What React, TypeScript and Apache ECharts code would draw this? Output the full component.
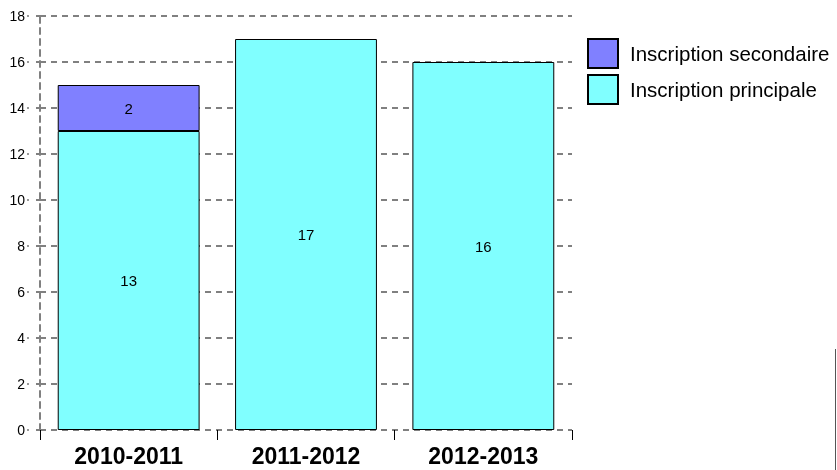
import React, { useEffect, useRef } from "react";
import * as echarts from "echarts";

const categories = ["2010-2011", "2011-2012", "2012-2013"];
const principale = [13, 17, 16];
const secondaire = [2, null, null];
const yTicks = { min: 0, max: 18, interval: 2 };

export default function App() {
  const ref = useRef<HTMLDivElement>(null);
  useEffect(() => {
    const chart = echarts.init(ref.current!, null, { renderer: "svg" });
    const font = "Liberation Sans, Arial, sans-serif";
    chart.setOption({
      animation: false,
      textStyle: { fontFamily: font },
      grid: { left: 40, right: 265, top: 16, bottom: 40, containLabel: false },
      legend: {
        orient: "vertical",
        left: 582,
        top: 33,
        itemWidth: 30,
        itemHeight: 29,
        itemGap: 5,
        icon: "rect",
        data: ["Inscription secondaire", "Inscription principale"],
        textStyle: { fontSize: 20.5, color: "#000", fontFamily: font, padding: [0, 0, 0, 7] },
      },
      xAxis: {
        type: "category",
        data: categories,
        axisLine: { show: false },
        axisTick: { show: true, length: 10, lineStyle: { color: "#000", width: 1 } },
        axisLabel: { fontSize: 23, fontWeight: "bold", color: "#000", margin: 14, fontFamily: font },
        splitLine: { show: false },
      },
      yAxis: [
        {
          type: "value",
          min: yTicks.min,
          max: yTicks.max,
          interval: yTicks.interval,
          axisLine: { show: true, lineStyle: { color: "#808080", width: 2, type: [6, 5] } },
          axisTick: { show: true, inside: false, length: 4, lineStyle: { color: "#808080", width: 2 } },
          axisLabel: { fontSize: 14, color: "#000", margin: 15, fontFamily: font },
          splitLine: { show: true, lineStyle: { color: "#808080", width: 2, type: [6, 5] } },
        },
        {
          type: "value",
          position: "left",
          offset: 11,
          min: yTicks.min,
          max: yTicks.max,
          interval: yTicks.interval,
          axisLine: { show: false },
          axisTick: { show: true, length: 2, lineStyle: { color: "#999", width: 2 } },
          axisLabel: { show: false },
          splitLine: { show: false },
        },
      ],
      series: [
        {
          name: "Inscription principale",
          type: "bar",
          stack: "total",
          barWidth: "80%",
          data: principale,
          itemStyle: { color: "#80ffff", borderColor: "#000", borderWidth: 1 },
          label: { show: true, position: "inside", color: "#000", fontSize: 15, fontFamily: font },
        },
        {
          name: "Inscription secondaire",
          type: "bar",
          stack: "total",
          barWidth: "80%",
          data: secondaire,
          itemStyle: { color: "#8080ff", borderColor: "#000", borderWidth: 1 },
          label: { show: true, position: "inside", color: "#000", fontSize: 15, fontFamily: font },
        },
      ],
      graphic: [
        {
          type: "line",
          shape: { x1: 835.5, y1: 349, x2: 835.5, y2: 470 },
          style: { stroke: "#555", lineWidth: 1 },
        },
      ],
    });
    return () => chart.dispose();
  }, []);
  return <div ref={ref} style={{ width: 837, height: 470, position: "fixed", left: 0, top: 0 }} />;
}
